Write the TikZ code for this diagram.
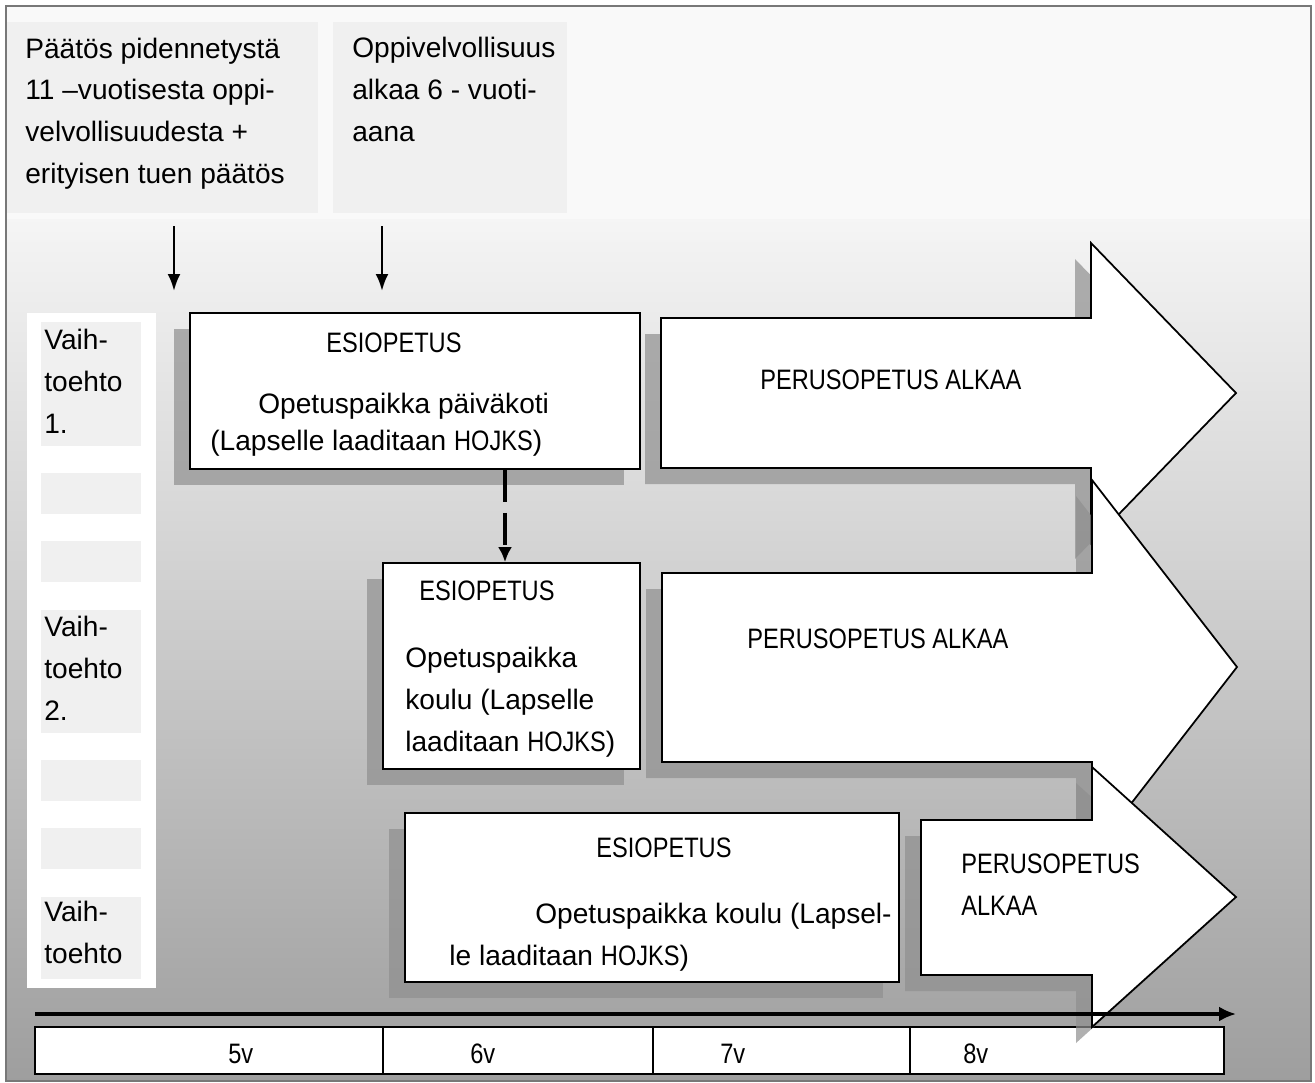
\documentclass[tikz,border=0pt]{standalone}
\usepackage{fontspec}
\setmainfont{Liberation Sans}
\usepackage{tikz}
\usetikzlibrary{arrows.meta,shadows}

\definecolor{bgtop}{gray}{0.975}
\definecolor{bgmid}{gray}{0.96}
\definecolor{bgbot}{gray}{0.62}
\definecolor{framegray}{gray}{0.47}
\definecolor{hdrgray}{gray}{0.94}
\definecolor{shadowgray}{gray}{0.56}

\newcommand{\squeezed}[1]{\scalebox{0.84}[1]{#1}}

\begin{document}
\begin{tikzpicture}[x=0.02cm, y=-0.02cm,
    txt/.style={anchor=base west, inner sep=0pt, font=\fontsize{16}{23.7}\selectfont, align=left},
    hdrbox/.style={fill=hdrgray, inner sep=0pt},
    shadowed/.style={drop shadow={shadow xshift=-0.32cm, shadow yshift=-0.32cm, fill=shadowgray, opacity=0.7}},
    esibox/.style={draw, line width=1pt, fill=white, inner sep=0pt, shadowed},
    bigarrow/.style={draw, line width=1pt, fill=white, line join=miter, shadowed},
    downarrow/.style={-{Latex[length=0.34cm,width=0.26cm]}, line width=1.5pt},
    dasharrow/.style={-{Latex[length=0.3cm,width=0.28cm]}, line width=2pt, dash pattern=on 0.64cm off 0.22cm},
    timeline/.style={-{Latex[length=0.34cm,width=0.3cm]}, line width=1.8pt}]
        \useasboundingbox (0,0) rectangle (1315,1082);

        % background and frame
        \fill[bgtop] (6,6) rectangle (1311,220);
        \shade[top color=bgmid, bottom color=bgbot] (6,219) rectangle (1311,1081);
        \draw[framegray, line width=1.3pt] (6,6) rectangle (1311,1081);

        % header boxes (multi-line texts sit on their last baseline)
        \node[hdrbox, minimum width=6.22cm, minimum height=3.82cm] (hdrA) at (162.5,117.5) {};
        \node[hdrbox, minimum width=4.68cm, minimum height=3.82cm] (hdrB) at (450,117.5) {};
        \node[txt] (hdrAtext) at (25,183) {Päätös pidennetystä\\11 –vuotisesta oppi-\\velvollisuudesta +\\erityisen tuen päätös};
        \node[txt] (hdrBtext) at (352,141) {Oppivelvollisuus\\alkaa 6 - vuoti-\\aana};

        \coordinate (decAtop) at (174,226);
        \coordinate (decAend) at (174,291);
        \coordinate (decBtop) at (382,226);
        \coordinate (decBend) at (382,291);
        \draw[downarrow] (decAtop) -- (decAend);
        \draw[downarrow] (decBtop) -- (decBend);

        % left column
        \fill[white] (27,313) rectangle (156,988);
        \foreach \ytop/\ybot in {322/446, 473/514, 541/582, 610/733, 760/801, 828/869, 897/979}
            \fill[hdrgray] (41,\ytop) rectangle (141,\ybot);
        \node[txt] (optA) at (44,433) {Vaih-\\toehto\\1.};
        \node[txt] (optB) at (44,720) {Vaih-\\toehto\\2.};
        \node[txt] (optC) at (44,963) {Vaih-\\toehto};

        % option 1
        \node[esibox, minimum width=9cm, minimum height=3.12cm] (esiA) at (415,391) {};
        \node[txt] (esiAhead) at (326,352) {\squeezed{ESIOPETUS}};
        \node[txt] (esiAline) at (258,413) {Opetuspaikka päiväkoti};
        \node[txt] (esiAhojks) at (210,450) {(Lapselle laaditaan \squeezed{HOJKS})};
        \draw[bigarrow] (661,318) -- (1091,318) -- (1091,243) -- (1236,393) -- (1091,543) -- (1091,468) -- (661,468) -- cycle;
        \node[txt] (perusA) at (760,389) {\squeezed{PERUSOPETUS ALKAA}};

        % option 2
        \coordinate (dashX) at (505,0);
        \node[esibox, minimum width=5.14cm, minimum height=4.12cm] (esiB) at (511.5,666) {};
        \draw[dasharrow] (esiA.south -| dashX) -- (esiB.north -| dashX);
        \node[txt] (esiBhead) at (419,600) {\squeezed{ESIOPETUS}};
        \node[txt] (esiBline) at (405,751) {Opetuspaikka\\koulu (Lapselle\\laaditaan \squeezed{HOJKS})};
        \draw[bigarrow] (662,573) -- (1092,573) -- (1092,480) -- (1237,667) -- (1092,854) -- (1092,762) -- (662,762) -- cycle;
        \node[txt] (perusB) at (747,648) {\squeezed{PERUSOPETUS ALKAA}};

        % option 3
        \node[esibox, minimum width=9.88cm, minimum height=3.38cm] (esiC) at (652,897.5) {};
        \node[txt] (esiChead) at (596,857) {\squeezed{ESIOPETUS}};
        \node[txt] (esiCline) at (535,923) {Opetuspaikka koulu (Lapsel-};
        \node[txt] (esiChojks) at (449,965) {le laaditaan \squeezed{HOJKS})};

        % age bar
        \draw[fill=white, line width=1pt] (35,1027) rectangle (1224,1074);
        \foreach \xdiv in {383, 653, 910}
            \draw[line width=1pt] (\xdiv,1027) -- (\xdiv,1074);
        \foreach \xlab/\age in {228/5v, 470/6v, 720/7v, 963/8v}
            \node[txt] (age\age) at (\xlab,1063) {\squeezed{\age}};

        \draw[bigarrow] (921,820) -- (1092,820) -- (1092,767) -- (1236,897) -- (1092,1027) -- (1092,975) -- (921,975) -- cycle;
        \node[txt] (perusC) at (961,873) {\squeezed{PERUSOPETUS}};
        \node[txt] (perusCend) at (961,915) {\squeezed{ALKAA}};

        \coordinate (tlStart) at (35,1014);
        \coordinate (tlEnd) at (1236,1014);
        \draw[timeline] (tlStart) -- (tlEnd);
    \end{tikzpicture}
\end{document}
